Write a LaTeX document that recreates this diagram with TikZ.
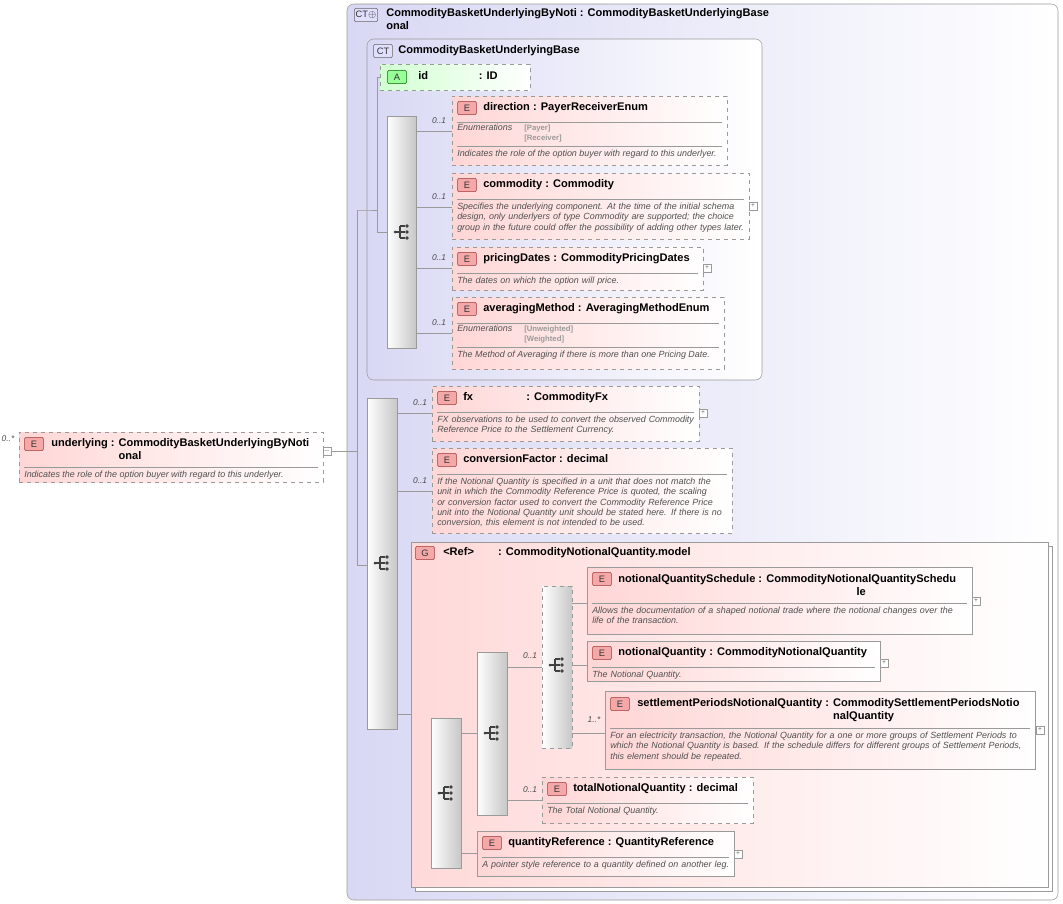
\documentclass[tikz,border=0pt]{standalone}
\usepackage{fontspec}
\setmainfont{Liberation Sans}
\usetikzlibrary{fit}
\definecolor{epink}{HTML}{FFD6D6}
\definecolor{ebadge}{HTML}{F4A8A8}
\definecolor{ebord}{HTML}{A03838}
\definecolor{ctbg}{HTML}{D8D8F4}
\definecolor{gbg}{HTML}{FFD9D9}
\definecolor{lgray}{HTML}{9A9A9A}
\definecolor{dtext}{HTML}{505050}
\tikzset{
 elem/.style={draw=lgray, dashed, left color=epink, right color=white, inner sep=0pt},
 elems/.style={draw=lgray, left color=epink, right color=white, inner sep=0pt},
 badge/.style={draw=ebord, fill=ebadge, rounded corners=1pt, inner sep=1pt, minimum width=14pt, minimum height=10pt, font=\fontsize{7}{7}\selectfont, text=black!80},
 ttl/.style={anchor=north west, align=left, inner sep=0pt, font=\fontsize{8.3}{9.6}\selectfont},
 dsc/.style={anchor=north west, align=left, inner sep=0pt, text=dtext, font=\fontsize{6.7}{7.6}\selectfont\itshape},
 comp/.style={draw=lgray, left color=white, right color=black!22, inner sep=0pt},
 conn/.style={draw=lgray, line width=0.5pt},
 occ/.style={font=\fontsize{6.3}{6.5}\selectfont\itshape, text=black!70, inner sep=0pt},
 plusbox/.style={draw=lgray, fill=white, minimum size=6pt, inner sep=0pt, font=\fontsize{5}{5}\selectfont, text=black!60},
}
\newcommand\xel[8]{% style,name,x1,y1,x2,y2,title,body
 \node[#1, fit={(#3,#4) (#5,#6)}] (#2) {};
 \node[badge] at (#3+15,#4+12) {E};
 \node[ttl] at (#3+31,#4+6) {#7};
 \draw[lgray] (#3+5,#4+26)--(#5-5,#4+26);
 \node[dsc, text width={(#5-#3-10)*0.75pt}] at (#3+5,#4+30) {#8};
}
\newcommand\xplus[2]{\node[plusbox] at (#1,#2) {+};}
\newcommand\seqicon[2]{%
 \fill[black!75] (#1-7,#2) circle (1.5);
 \draw[black!75,line width=0.8pt] (#1-7,#2)--(#1-2,#2) (#1-2,#2-6)--(#1-2,#2+6) (#1-2,#2-6)--(#1+3,#2-6) (#1-2,#2+6)--(#1+3,#2+6) (#1-2,#2)--(#1+3,#2);
 \fill[black!75] (#1+5,#2-6) circle (1.9) (#1+5,#2) circle (1.9) (#1+5,#2+6) circle (1.9);
}
\begin{document}
\hyphenpenalty=10000 \exhyphenpenalty=10000
\begin{tikzpicture}[x=0.75pt,y=-0.75pt]
\useasboundingbox (0,0) rectangle (1063,903);
% outer CT
\node[draw=lgray, rounded corners=5pt, left color=ctbg, right color=white, fit={(347,4) (1058,900)}, inner sep=0pt] (outerct) {};
\node[badge, draw=black!60, fill=ctbg!70!blue!30] at (366,15) {CT$\oplus$};
\node[ttl, font=\fontsize{8.3}{9.6}\selectfont\bfseries] at (386,8) {CommodityBasketUnderlyingByNoti : CommodityBasketUnderlyingBase\\onal};
% inner CT
\node[draw=lgray, rounded corners=5pt, left color=ctbg, right color=white, fit={(367,39) (762,380)}, inner sep=0pt] (innerct) {};
\node[badge, draw=black!60, fill=ctbg!70!blue!30] at (383,51) {CT};
\node[ttl, font=\fontsize{8.3}{9.6}\selectfont\bfseries] at (398,45) {CommodityBasketUnderlyingBase};
% attribute id
\node[draw=lgray, dashed, left color=green!18, right color=white, fit={(380,64) (530,90)}, inner sep=0pt] (id) {};
\node[badge, draw=green!40!black, fill=green!40] at (397,77) {A};
\node[ttl] at (418,71) {\textbf{id}\hspace{38pt}\textbf{: ID}};
% inner seq
\node[comp, fit={(387,116) (416,348)}] (seq1) {};
\seqicon{402}{232}
% direction
\xel{elem}{direction}{452}{96}{727}{165}{\textbf{direction : PayerReceiverEnum}}{}
\node[dsc] at (457,124) {Enumerations};
\node[dsc, font=\fontsize{5.8}{7}\selectfont\bfseries, text=lgray] at (524,125) {[Payer]\\{}[Receiver]};
\draw[lgray] (457,146)--(722,146);
\node[dsc] at (457,150) {Indicates the role of the option buyer with regard to this underlyer.};
% commodity
\xel{elem}{commodity}{452}{173}{749}{239}{\textbf{commodity : Commodity}}{Specifies the underlying component. At the time of the initial schema design, only underlyers of type Commodity are supported; the choice group in the future could offer the possibility of adding other types later.}
\xplus{753}{206}
% pricingDates
\xel{elem}{pricingDates}{452}{247}{703}{290}{\textbf{pricingDates : CommodityPricingDates}}{The dates on which the option will price.}
\xplus{707}{268}
% averagingMethod
\xel{elem}{averaging}{452}{297}{724}{369}{\textbf{averagingMethod : AveragingMethodEnum}}{}
\node[dsc] at (457,325) {Enumerations};
\node[dsc, font=\fontsize{5.8}{7}\selectfont\bfseries, text=lgray] at (524,326) {[Unweighted]\\{}[Weighted]};
\draw[lgray] (457,347)--(719,347);
\node[dsc] at (457,351) {The Method of Averaging if there is more than one Pricing Date.};
% outer seq
\node[comp, fit={(367,398) (397,729)}] (seq0) {};
\seqicon{382}{563}
% fx
\xel{elem}{fx}{432}{386}{699}{441}{\textbf{fx}\hspace{40pt}\textbf{: CommodityFx}}{FX observations to be used to convert the observed Commodity Reference Price to the Settlement Currency.}
\xplus{703}{413}
% conversionFactor
\xel{elem}{conv}{432}{448}{732}{533}{\textbf{conversionFactor : decimal}}{If the Notional Quantity is specified in a unit that does not match the unit in which the Commodity Reference Price is quoted, the scaling or conversion factor used to convert the Commodity Reference Price unit into the Notional Quantity unit should be stated here. If there is no conversion, this element is not intended to be used.}
% group
\draw[lgray, fill=white] (415,546) rectangle (1052,891);
\node[draw=lgray, left color=gbg, right color=white, fit={(411,542) (1048,887)}, inner sep=0pt] (grp) {};
\node[badge] at (425,553) {G};
\node[ttl] at (443,547) {\textbf{<Ref>}\hspace{18pt}\textbf{: CommodityNotionalQuantity.model}};
% group seqs
\node[comp, fit={(431,718) (461,868)}] (seqg) {};
\seqicon{446}{793}
\node[comp, fit={(477,652) (507,815)}] (seq2) {};
\seqicon{492}{733}
\node[comp, dashed, fit={(542,586) (572,748)}] (choice) {};
\seqicon{557}{665}
% notionalQuantitySchedule
\node[elems, fit={(587,567) (972,634)}] (nqs) {};
\node[badge] at (602,579) {E};
\node[ttl] at (618,573) {\textbf{notionalQuantitySchedule :} \begin{tabular}[t]{@{}c@{}}\textbf{CommodityNotionalQuantitySchedu}\\\textbf{le}\end{tabular}};
\draw[lgray] (592,603)--(967,603);
\node[dsc, text width=280pt] at (592,607) {Allows the documentation of a shaped notional trade where the notional changes over the life of the transaction.};
\xplus{976}{601}
% notionalQuantity
\xel{elems}{nq}{587}{641}{880}{681}{\textbf{notionalQuantity : CommodityNotionalQuantity}}{The Notional Quantity.}
\xplus{884}{663}
% settlementPeriods
\node[elems, fit={(605,691) (1035,769)}] (spnq) {};
\node[badge] at (620,704) {E};
\node[ttl] at (637,697) {\textbf{settlementPeriodsNotionalQuantity :} \begin{tabular}[t]{@{}l@{}}\textbf{CommoditySettlementPeriodsNotio}\\\textbf{nalQuantity}\end{tabular}};
\draw[lgray] (610,728)--(1030,728);
\node[dsc, text width=316pt] at (610,732) {For an electricity transaction, the Notional Quantity for a one or more groups of Settlement Periods to which the Notional Quantity is based. If the schedule differs for different groups of Settlement Periods, this element should be repeated.};
\xplus{1040}{730}
% totalNotionalQuantity
\xel{elem}{tnq}{542}{777}{753}{823}{\textbf{totalNotionalQuantity : decimal}}{The Total Notional Quantity.}
% quantityReference
\xel{elems}{qref}{477}{831}{734}{876}{\textbf{quantityReference : QuantityReference}}{A pointer style reference to a quantity defined on another leg.}
\xplus{738}{854}
% underlying
\node[elem, fit={(19,432) (323,482)}] (underlying) {};
\node[badge] at (34,444) {E};
\node[ttl] at (51,437) {\textbf{underlying :} \begin{tabular}[t]{@{}l@{}}\textbf{CommodityBasketUnderlyingByNoti}\\\textbf{onal}\end{tabular}};
\draw[lgray] (24,467)--(318,467);
\node[dsc] at (24,471) {Indicates the role of the option buyer with regard to this underlyer.};
\node[occ] at (8,439) {0..*};
\node[plusbox] (minus) at (327,451) {$-$};
% connectors
\coordinate (j0) at (357,451);
\draw[conn] (minus.east) -- (j0);
\draw[conn] (357,210) -- (357,565);
\draw[conn] (357,210) -- (innerct.west |- 0,210) -- (377,210);
\draw[conn] (357,565) -- (seq0.west |- 0,565);
\draw[conn] (377,77) -- (377,232) -- (seq1.west |- 0,232);
\draw[conn] (377,77) -- (id.west |- 0,77);
\foreach \y/\n in {131/direction,207/commodity,268/pricingDates,333/averaging}{
  \draw[conn] (seq1.east |- 0,\y) -- (\n.west |- 0,\y);
  \node[occ] at (439,\y-10) {0..1};
}
\draw[conn] (seq0.east |- 0,413) -- (fx.west |- 0,413); \node[occ] at (420,403) {0..1};
\draw[conn] (seq0.east |- 0,491) -- (conv.west |- 0,491); \node[occ] at (420,481) {0..1};
\draw[conn] (seq0.east |- 0,714) -- (grp.west |- 0,714);
\draw[conn] (seqg.east |- 0,733) -- (seq2.west |- 0,733);
\draw[conn] (seqg.east |- 0,853) -- (qref.west |- 0,853);
\draw[conn] (seq2.east |- 0,667) -- (choice.west |- 0,667); \node[occ] at (530,656) {0..1};
\draw[conn] (seq2.east |- 0,800) -- (tnq.west |- 0,800); \node[occ] at (530,790) {0..1};
\draw[conn] (choice.east |- 0,603) -- (nqs.west |- 0,603);
\draw[conn] (choice.east |- 0,665) -- (nq.west |- 0,665);
\draw[conn] (choice.east |- 0,733) -- (spnq.west |- 0,733); \node[occ] at (594,720) {1..*};
\end{tikzpicture}
\end{document}
